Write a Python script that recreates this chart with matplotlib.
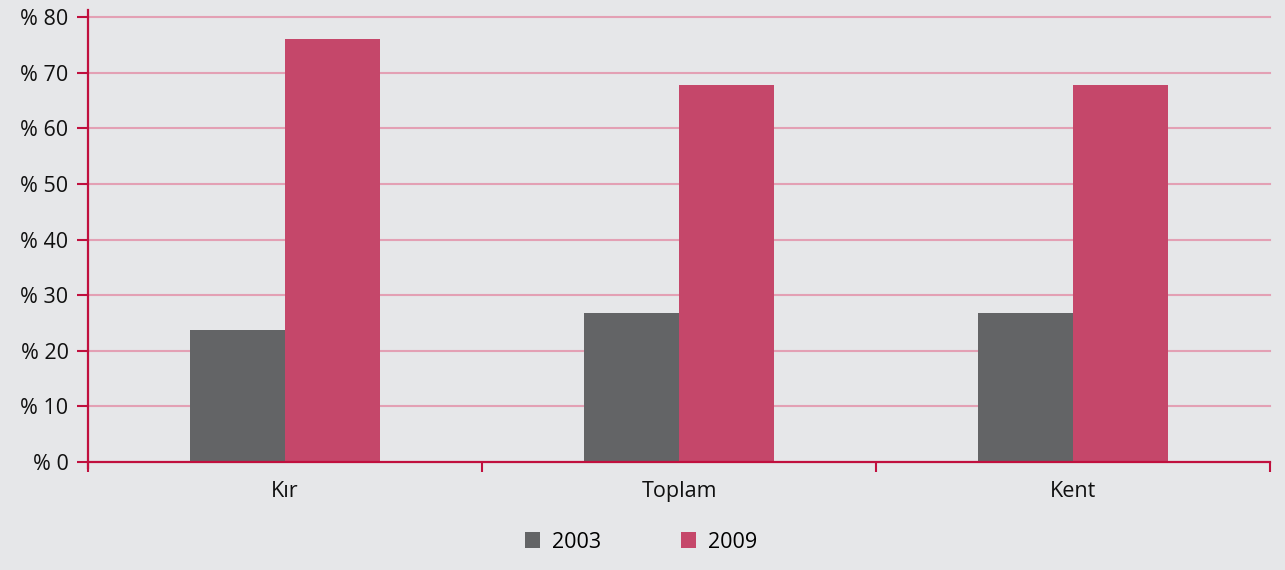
import numpy as np
import matplotlib
matplotlib.use('Agg')
import matplotlib.pyplot as plt
from matplotlib.patches import Patch

categories = ['Kır', 'Toplam', 'Kent']
years = ['2003', '2009']
values_2003 = [23.7, 26.8, 26.8]
values_2009 = [76.1, 67.8, 67.8]
y_ticks = [0, 10, 20, 30, 40, 50, 60, 70, 80]
y_labels = ['% ' + str(v) for v in y_ticks]

bg = '#e6e7e9'
gray = '#636466'
pink = '#c5476a'
axis_red = '#c0103e'
grid_pink = '#e3a0b4'

plt.rcParams['font.family'] = ['Open Sans', 'DejaVu Sans']

fig = plt.figure(figsize=(12.85, 5.7), dpi=100, facecolor=bg)
ax = fig.add_axes([88 / 1285, 108 / 570, 1182 / 1285, 445 / 570])
ax.set_facecolor(bg)

x = np.arange(len(categories))
w = 0.24
ax.bar(x - w / 2, values_2003, w, color=gray, zorder=3)
ax.bar(x + w / 2, values_2009, w, color=pink, zorder=3)

ax.set_xlim(-0.5, len(categories) - 0.5)
ax.set_ylim(0, 80)
ax.set_yticks(y_ticks)
ax.set_yticklabels(y_labels, fontsize=15.5, color='#111111')

# category labels centered, ticks at boundaries
ax.set_xticks(np.arange(len(categories) + 1) - 0.5)
ax.set_xticklabels([])
ax.set_xticks(x, minor=True)
ax.set_xticklabels(categories, minor=True, fontsize=15.5, color='#111111')
ax.tick_params(axis='x', which='minor', length=0, pad=14)
ax.tick_params(axis='x', which='major', length=7, width=1.5, color=axis_red, direction='out')
ax.tick_params(axis='y', length=8, width=1.5, color=axis_red, direction='out', pad=6)

for v in y_ticks[1:]:
    ax.axhline(v, color=grid_pink, lw=1.5, zorder=1, clip_on=False)

for s in ['top', 'right']:
    ax.spines[s].set_visible(False)
for s in ['left', 'bottom']:
    ax.spines[s].set_color(axis_red)
    ax.spines[s].set_linewidth(1.6)
ax.spines['left'].set_bounds(-1.1, 81.3)
ax.spines['left'].set_zorder(4)
ax.spines['bottom'].set_zorder(4)

handles = [Patch(facecolor=gray), Patch(facecolor=pink)]
fig.legend(handles, years, loc='center', bbox_to_anchor=(641 / 1285, 1 - 542 / 570),
           ncol=2, frameon=False, fontsize=15.5, handlelength=0.7, handleheight=0.7,
           handletextpad=0.55, columnspacing=3.7)

fig.savefig('out.png', dpi=100, facecolor=bg)
